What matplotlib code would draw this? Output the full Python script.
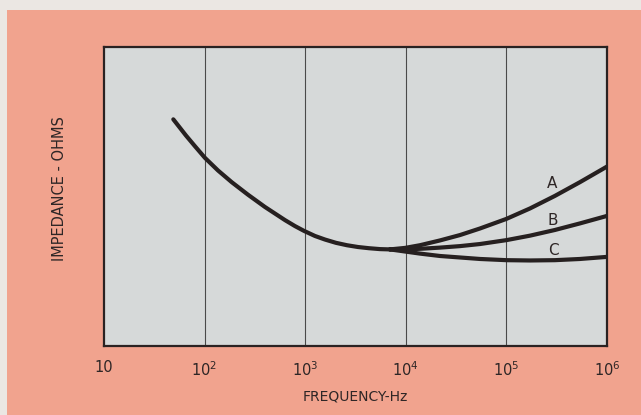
import matplotlib.pyplot as plt
from matplotlib.patches import Rectangle

# shared part of the curve (Hz, relative impedance)
freq_main = [48.9, 65.3, 80.3, 101, 136, 186, 270, 398, 630, 792, 973, 1250, 1574,
             2024, 2600, 3349, 4306, 5546, 6970]
imp_main = [75.8, 70.4, 66.8, 62.9, 58.7, 54.8, 50.6, 46.5, 42.1, 40.1, 38.5, 36.8, 35.6,
            34.5, 33.7, 33.1, 32.7, 32.4, 32.3]

# branches
freq_branch = [6970, 9820, 13840, 21880, 34590, 54700, 100000, 171800, 304000, 539500, 1000000]
imp_a = [32.3, 32.8, 33.7, 35.3, 37.1, 39.3, 42.5, 46.0, 50.2, 54.8, 60.0]
imp_b = [32.3, 32.3, 32.5, 32.9, 33.4, 34.1, 35.4, 36.9, 38.8, 41.0, 43.5]
imp_c = [32.3, 31.6, 30.9, 30.1, 29.6, 29.1, 28.7, 28.6, 28.7, 29.1, 29.8]

labels = ['A', 'B', 'C']
label_pos = [(2.84e5, 54.2), (2.9e5, 41.9), (2.95e5, 31.9)]

xticks = [10, 100, 1000, 10000, 100000, 1000000]
xticklabels = ['10', '$10^2$', '$10^3$', '$10^4$', '$10^5$', '$10^6$']

salmon = '#f1a38e'
ink = '#2e2626'

fig = plt.figure(figsize=(6.41, 4.15), dpi=100, facecolor='#ebe7e3')
fig.patches.append(Rectangle((0.011, 0), 0.989, 0.976, transform=fig.transFigure,
                             facecolor=salmon, edgecolor='none', zorder=-10))

ax = fig.add_axes([0.1622, 0.1663, 0.7847, 0.7205])
ax.set_facecolor('#d6d9d9')
ax.set_xscale('log')
ax.set_xlim(10, 1e6)
ax.set_ylim(0, 100)

for xv in xticks[1:-1]:
    ax.axvline(xv, color='#4a4a4a', lw=0.8, zorder=1)

lw = 3.0
ax.plot(freq_main, imp_main, color='#262020', lw=lw, solid_capstyle='round',
        solid_joinstyle='round', zorder=3)
for ys in (imp_a, imp_b, imp_c):
    ax.plot(freq_branch, ys, color='#262020', lw=lw, solid_capstyle='round',
            solid_joinstyle='round', zorder=3)

for lab, (xp, yp) in zip(labels, label_pos):
    ax.text(xp, yp, lab, fontsize=11, color=ink, ha='center', va='center')

ax.set_xticks(xticks)
ax.set_xticklabels(xticklabels)
ax.minorticks_off()
ax.set_yticks([])
ax.tick_params(axis='x', length=0, pad=10, labelsize=10.5, colors=ink)
for sp in ax.spines.values():
    sp.set_linewidth(1.6)
    sp.set_color('#2a2222')

ax.set_xlabel('FREQUENCY-Hz', fontsize=10, color=ink, labelpad=8)
ax.set_ylabel('IMPEDANCE - OHMS', fontsize=10.5, color=ink)
ax.yaxis.set_label_coords(-0.074, 0.525)

fig.savefig('out.png', dpi=100, facecolor=fig.get_facecolor())
